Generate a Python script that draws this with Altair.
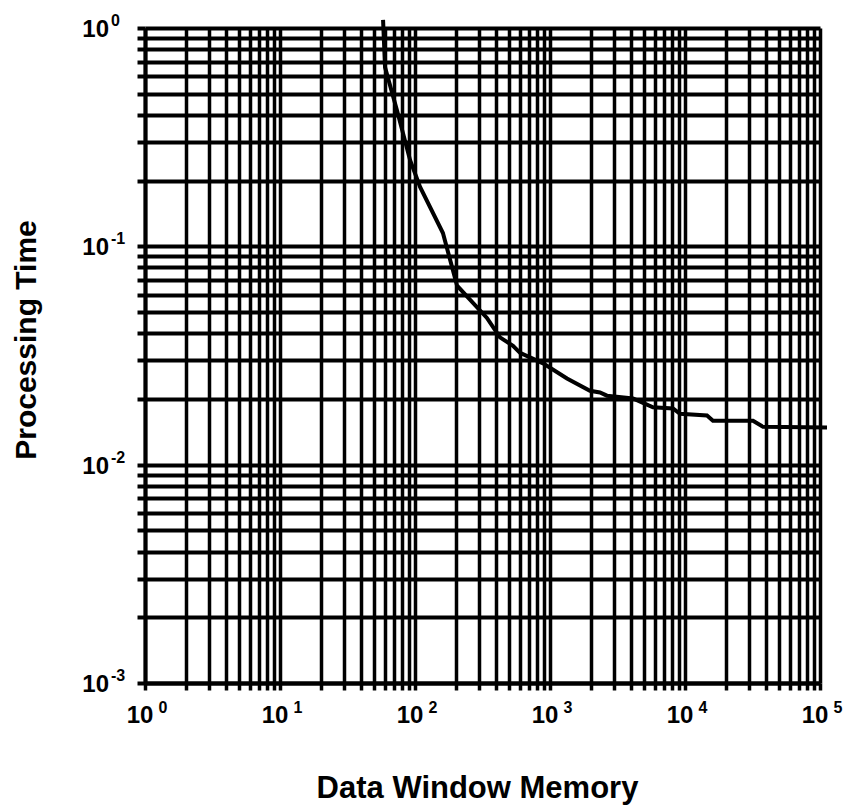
import altair as alt
import pandas as pd

# curve
mem = [58, 60, 73.5, 92, 109, 161, 205, 341, 426, 532, 600, 888, 1336, 1977, 2345,
       2643, 4120, 4885, 5794, 8150, 9180, 14550, 16110, 31900, 37840, 112700]
ptime = [1.09, 0.66, 0.42, 0.248, 0.187, 0.115, 0.066, 0.047, 0.0383, 0.035, 0.0325,
         0.0291, 0.0248, 0.0218, 0.0214, 0.0207, 0.0201, 0.0192, 0.0183, 0.0181,
         0.0171, 0.0168, 0.0159, 0.0159, 0.0149, 0.0148]

x_exps = [0, 1, 2, 3, 4, 5]
y_exps = [0, -1, -2, -3]
x_grid = [m * 10 ** e for e in range(0, 5) for m in range(1, 10)] + [100000]
y_grid = [round(m * 10.0 ** e, 6) for e in range(-3, 0) for m in range(1, 10)] + [1]

W, H = 675, 655
FONT = "Liberation Sans"

curve = pd.DataFrame({"mem": mem, "t": ptime})
xl = pd.DataFrame({"v": [10 ** e for e in x_exps], "base": ["10"] * len(x_exps),
                   "exp": [str(e) for e in x_exps]})
yl = pd.DataFrame({"v": [10.0 ** e for e in y_exps], "base": ["10"] * len(y_exps),
                   "exp": [str(e) for e in y_exps]})

xscale = alt.Scale(type="log", domain=[1, 100000], nice=False)
yscale = alt.Scale(type="log", domain=[0.001, 1], nice=False)

xaxis = alt.Axis(values=x_grid, labels=False, title=None, grid=True, gridColor="black",
                 gridWidth=3.5, gridOpacity=1, ticks=True, tickSize=7, tickWidth=3.5,
                 tickColor="black", domainColor="black", domainWidth=4)
yaxis = alt.Axis(values=y_grid, labels=False, title=None, grid=True, gridColor="black",
                 gridWidth=4, gridOpacity=1, ticks=True, tickSize=8, tickWidth=4,
                 tickColor="black", domainColor="black", domainWidth=4)

line = alt.Chart(curve).mark_line(color="black", strokeWidth=4, clip=False).encode(
    x=alt.X("mem:Q", scale=xscale, axis=xaxis),
    y=alt.Y("t:Q", scale=yscale, axis=yaxis),
)

xbase = alt.Chart(xl).mark_text(font=FONT, fontWeight="bold", fontSize=24, color="black",
                                align="center", baseline="alphabetic", dx=-5).encode(
    x=alt.X("v:Q", scale=xscale), y=alt.value(H + 40), text="base:N")
xexp = alt.Chart(xl).mark_text(font=FONT, fontWeight="bold", fontSize=16, color="black",
                               align="center", baseline="alphabetic", dx=18).encode(
    x=alt.X("v:Q", scale=xscale), y=alt.value(H + 30), text="exp:N")

ybase = alt.Chart(yl).mark_text(font=FONT, fontWeight="bold", fontSize=24, color="black",
                                align="right", baseline="alphabetic", dy=9).encode(
    y=alt.Y("v:Q", scale=yscale), x=alt.value(-36), text="base:N")
yexp = alt.Chart(yl).mark_text(font=FONT, fontWeight="bold", fontSize=16, color="black",
                               align="left", baseline="alphabetic", dy=-2).encode(
    y=alt.Y("v:Q", scale=yscale), x=alt.value(-34), text="exp:N")

xtitle = alt.Chart(pd.DataFrame({"t": ["Data Window Memory"]})).mark_text(
    font=FONT, fontWeight="bold", fontSize=31, color="black", align="center",
    baseline="alphabetic").encode(x=alt.value(W / 2 - 5), y=alt.value(770), text="t:N")
ytitle = alt.Chart(pd.DataFrame({"t": ["Processing Time"]})).mark_text(
    font=FONT, fontWeight="bold", fontSize=30, color="black", align="center",
    baseline="alphabetic", angle=270).encode(x=alt.value(-109), y=alt.value(312), text="t:N")

chart = alt.layer(line, xbase, xexp, ybase, yexp, xtitle, ytitle).properties(
    width=W, height=H,
    autosize=alt.AutoSizeParams(type="none"),
    padding={"left": 137, "top": 20, "right": 26, "bottom": 128},
).configure_view(stroke="black", strokeWidth=4).configure(background="white")

chart.save("out.html", embed_options={"renderer": "svg", "actions": False})
